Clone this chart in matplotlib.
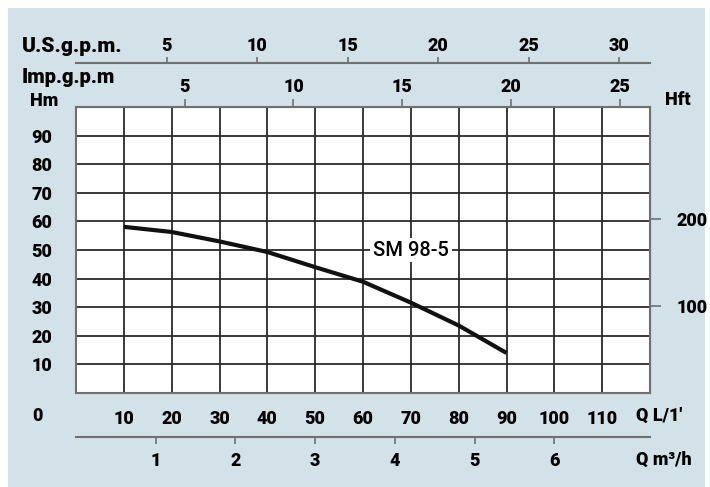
import matplotlib
matplotlib.use("Agg")
import matplotlib.pyplot as plt
from matplotlib.patches import Rectangle

# performance curve SM 98-5, flow in L/min, head in m
flow = [10, 20, 30, 40, 50, 60, 70, 80, 90]
head = [58.1, 56.3, 53.0, 49.3, 44.0, 38.9, 31.6, 23.6, 14.0]
curve_name = "SM 98-5"

lmin_ticks = [10, 20, 30, 40, 50, 60, 70, 80, 90, 100, 110]
hm_ticks = [10, 20, 30, 40, 50, 60, 70, 80, 90]
usgpm_ticks = [5, 10, 15, 20, 25, 30]
impgpm_ticks = [5, 10, 15, 20, 25]
m3h_ticks = [1, 2, 3, 4, 5, 6]
hft_ticks = [100, 200]

plt.rcParams['font.family'] = ['Roboto', 'DejaVu Sans']
plt.rcParams['font.weight'] = 'heavy'
plt.rcParams['font.size'] = 13

W, H = 710, 487
bg = "#d2e2e8"
grid_col = "#2a2a2a"
axis_col = "#707070"

fig = plt.figure(figsize=(W / 100, H / 100), dpi=100)
fig.patch.set_facecolor("white")
fig.patches.append(Rectangle((8 / W, 0), 697 / W, 479 / H, transform=fig.transFigure,
                             facecolor=bg, edgecolor="none", zorder=-10))


def px(x, y):
    return x / W, 1 - y / H


ax = fig.add_axes([76 / W, 1 - 393 / H, 574 / W, 286 / H])
ax.set_facecolor("white")
ax.set_xlim(0, 120)
ax.set_ylim(0, 100)
ax.set_xticks(lmin_ticks)
ax.set_yticks(hm_ticks)
ax.grid(True, color=grid_col, linewidth=1.3)
ax.tick_params(axis='x', length=0, pad=12)
ax.tick_params(axis='y', length=0, pad=17)
for s in ax.spines.values():
    s.set_color(axis_col)
    s.set_linewidth(1.5)

ax.plot(flow, head, color="#111111", linewidth=3, solid_capstyle='butt', zorder=3)
ax.text(70, 50, curve_name, fontsize=14.5, fontweight='medium',
        ha='center', va='center',
        bbox=dict(facecolor='white', edgecolor='none', pad=2), zorder=4)

# U.S. gpm axis above the chart
us = ax.secondary_xaxis(1.154, functions=(lambda x: x / 3.785, lambda g: g * 3.785))
us.set_xticks(usgpm_ticks)
us.tick_params(direction='out', length=4, width=1.2, color=axis_col, pad=2)
us.spines['top'].set_color(axis_col)
us.spines['top'].set_linewidth(1.5)

# Imperial gpm axis on the top edge
imp = ax.secondary_xaxis('top', functions=(lambda x: x / 4.546, lambda g: g * 4.546))
imp.set_xticks(impgpm_ticks)
imp.tick_params(direction='out', length=6, width=1.2, color=axis_col, pad=2)
imp.spines['top'].set_color(axis_col)

# m3/h axis below the chart
m3 = ax.secondary_xaxis(-0.154, functions=(lambda x: x * 0.06, lambda q: q / 0.06))
m3.set_xticks(m3h_ticks)
m3.tick_params(direction='out', length=5, width=1.2, color=axis_col, pad=6)
m3.spines['bottom'].set_color(axis_col)
m3.spines['bottom'].set_linewidth(1.5)

# feet axis on the right
ft = ax.secondary_yaxis('right', functions=(lambda m: m * 3.2808, lambda f: f / 3.2808))
ft.set_yticks(hft_ticks)
ft.tick_params(direction='out', length=8, width=1.2, color=axis_col, pad=11)
ft.spines['right'].set_color(axis_col)

fig.text(*px(22, 47), "U.S.g.p.m.", ha='left', va='center', fontsize=15)
fig.text(*px(22, 77), "Imp.g.p.m", ha='left', va='center', fontsize=14.5)
fig.text(*px(44, 101), "Hm", ha='center', va='center')
fig.text(*px(678, 100), "Hft", ha='center', va='center')
fig.text(*px(37, 416), "0", ha='center', va='center')
fig.text(*px(636, 416), "Q L/1'", ha='left', va='center')
fig.text(*px(636, 460), "Q m\u00b3/h", ha='left', va='center')

fig.savefig("out.png", dpi=100, facecolor=fig.get_facecolor())
